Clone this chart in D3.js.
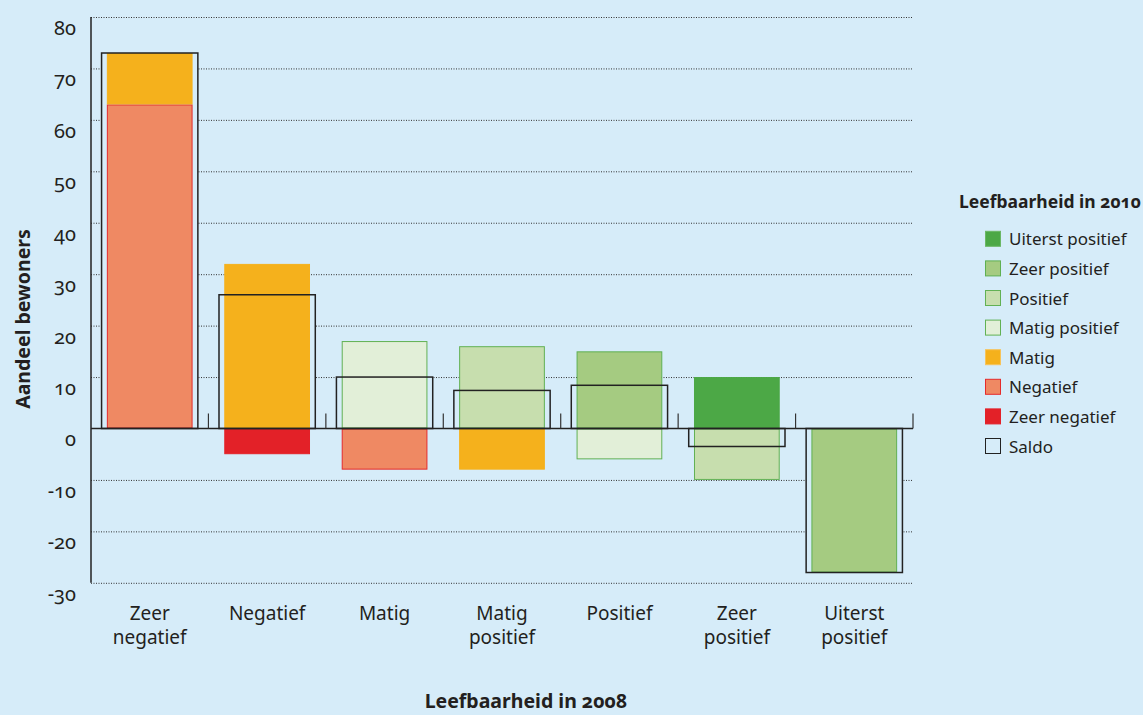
<!DOCTYPE html>
<html><head><meta charset="utf-8">
<script src="https://cdn.jsdelivr.net/npm/d3@7"></script>
<style>
html,body{margin:0;padding:0;background:#d6ecf9;}
svg{display:block;font-family:"Noto Sans",sans-serif;font-variant-numeric:oldstyle-nums;}
</style></head><body>
<svg id="c" width="1143" height="715"></svg>
<script>
const categories = ["Zeer negatief","Negatief","Matig","Matig positief","Positief","Zeer positief","Uiterst positief"];
const categoryLines = [["Zeer","negatief"],["Negatief"],["Matig"],["Matig","positief"],["Positief"],["Zeer","positief"],["Uiterst","positief"]];
const seriesKeys = ["Zeer negatief","Negatief","Matig","Matig positief","Positief","Zeer positief","Uiterst positief"];
const zeerNegatief   = [0,-5,0,0,0,0,0];
const negatief       = [63,0,-8,0,0,0,0];
const matig          = [10,32,0,-8,0,0,0];
const matigPositief  = [0,0,17,0,-6,0,0];
const positief       = [0,0,0,16,0,-10,0];
const zeerPositief   = [0,0,0,0,15,0,-28];
const uiterstPositief= [0,0,0,0,0,10,0];
const saldo          = [73,26,10,7.4,8.4,-3.5,-28];
const yTicks = [-30,-20,-10,0,10,20,30,40,50,60,70,80];
const legendOrder = ["Uiterst positief","Zeer positief","Positief","Matig positief","Matig","Negatief","Zeer negatief","Saldo"];

const fills = {"Uiterst positief":"#4ca846","Zeer positief":"#a5cb81","Positief":"#c7deae","Matig positief":"#e2efd8","Matig":"#f5b11c","Negatief":"#ef8963","Zeer negatief":"#e32128","Saldo":"#d6ecf9"};
const strokes = {"Uiterst positief":"#4ca846","Zeer positief":"#5fb052","Positief":"#62b154","Matig positief":"#62b154","Matig":"#f5b11c","Negatief":"#e52b2b","Zeer negatief":"#e32128","Saldo":"#222"};

const seriesVals = {"Zeer negatief":zeerNegatief,"Negatief":negatief,"Matig":matig,"Matig positief":matigPositief,"Positief":positief,"Zeer positief":zeerPositief,"Uiterst positief":uiterstPositief};
const table = categories.map((c,i)=>{const o={cat:c};seriesKeys.forEach(k=>o[k]=seriesVals[k][i]);return o;});

const svg = d3.select("#c");
const x = d3.scaleBand().domain(categories).range([91,913]).padding(0);
const y = d3.scaleLinear().domain([-30,80]).range([582.8,17]);
const textCol = "#231f20";

// gridlines
svg.append("g").selectAll("line").data(yTicks.filter(t=>t!==0)).join("line")
  .attr("x1",91).attr("x2",913).attr("y1",d=>y(d)+0.5).attr("y2",d=>y(d)+0.5)
  .attr("stroke","#333").attr("stroke-width",1).attr("stroke-dasharray","1,1.5");

const sw = x.bandwidth()*0.82, bw = x.bandwidth()*0.73;
// saldo backgrounds
svg.append("g").selectAll("rect").data(categories).join("rect")
  .attr("x",(d)=>x(d)+(x.bandwidth()-sw)/2).attr("width",sw)
  .attr("y",(d,i)=>y(Math.max(0,saldo[i]))).attr("height",(d,i)=>Math.abs(y(saldo[i])-y(0)))
  .attr("fill",fills["Saldo"]);

const stack = d3.stack().keys(seriesKeys).offset(d3.stackOffsetDiverging);
const stacked = stack(table);
svg.append("g").selectAll("g").data(stacked).join("g")
  .attr("fill",d=>fills[d.key]).attr("stroke",d=>strokes[d.key]).attr("stroke-width",1)
  .selectAll("rect").data(d=>d.filter(p=>p[1]!==p[0])).join("rect")
  .attr("x",d=>x(d.data.cat)+(x.bandwidth()-bw)/2+0.5).attr("width",bw-1)
  .attr("y",d=>y(Math.max(d[0],d[1]))+0.5).attr("height",d=>Math.abs(y(d[0])-y(d[1]))-1);

// saldo outlines
svg.append("g").selectAll("rect").data(categories).join("rect")
  .attr("x",(d)=>x(d)+(x.bandwidth()-sw)/2).attr("width",sw)
  .attr("y",(d,i)=>y(Math.max(0,saldo[i]))).attr("height",(d,i)=>Math.abs(y(saldo[i])-y(0)))
  .attr("fill","none").attr("stroke","#222").attr("stroke-width",1.5);

// y axis
svg.append("line").attr("x1",91).attr("x2",91).attr("y1",y(80)).attr("y2",y(-30)).attr("stroke","#222").attr("stroke-width",1.5);
svg.append("g").selectAll("text").data(yTicks).join("text")
  .attr("x",76).attr("y",d=>y(d)+18).attr("text-anchor","end")
  .attr("font-size",20).attr("fill",textCol).text(d=>d);
// x axis at zero
svg.append("line").attr("x1",91).attr("x2",913).attr("y1",y(0)).attr("y2",y(0)).attr("stroke","#222").attr("stroke-width",1.5);
svg.append("g").selectAll("line").data(categories).join("line")
  .attr("x1",d=>x(d)+x.bandwidth()).attr("x2",d=>x(d)+x.bandwidth())
  .attr("y1",y(0)).attr("y2",y(0)-15).attr("stroke","#333").attr("stroke-width",1.2);

// x labels
const xl = svg.append("g").selectAll("text").data(categories).join("text")
  .attr("x",d=>x(d)+x.bandwidth()/2).attr("y",620).attr("text-anchor","middle")
  .attr("font-size",19).attr("fill",textCol);
xl.selectAll("tspan").data((d,i)=>categoryLines[i]).join("tspan")
  .attr("x",function(){return this.parentNode.getAttribute("x");})
  .attr("dy",(d,i)=>i===0?0:23.5).text(d=>d);

// axis titles
svg.append("text").attr("transform","translate(30,319) rotate(-90)").attr("text-anchor","middle")
  .attr("font-size",19.5).attr("font-weight","bold").attr("fill",textCol).text("Aandeel bewoners");
svg.append("text").attr("x",526).attr("y",708).attr("text-anchor","middle")
  .attr("font-size",19.5).attr("font-weight","bold").attr("fill",textCol).text("Leefbaarheid in 2008");

// legend
svg.append("text").attr("x",1141).attr("y",208).attr("text-anchor","end").attr("font-size",17.5).attr("font-weight","bold").attr("fill",textCol).text("Leefbaarheid in 2010");
const lg = svg.append("g").selectAll("g").data(legendOrder).join("g")
  .attr("transform",(d,i)=>`translate(985,${238.8+i*29.6})`);
lg.append("rect").attr("x",0.5).attr("y",-7.5).attr("width",15).attr("height",15)
  .attr("fill",d=>fills[d]).attr("stroke",d=>d==="Matig"?"#f7c35a":d==="Uiterst positief"?"#6bb765":strokes[d]).attr("stroke-width",1);
lg.append("text").attr("x",24).attr("y",6.5).attr("font-size",17).attr("fill",textCol).text(d=>d);
</script>
</body></html>
